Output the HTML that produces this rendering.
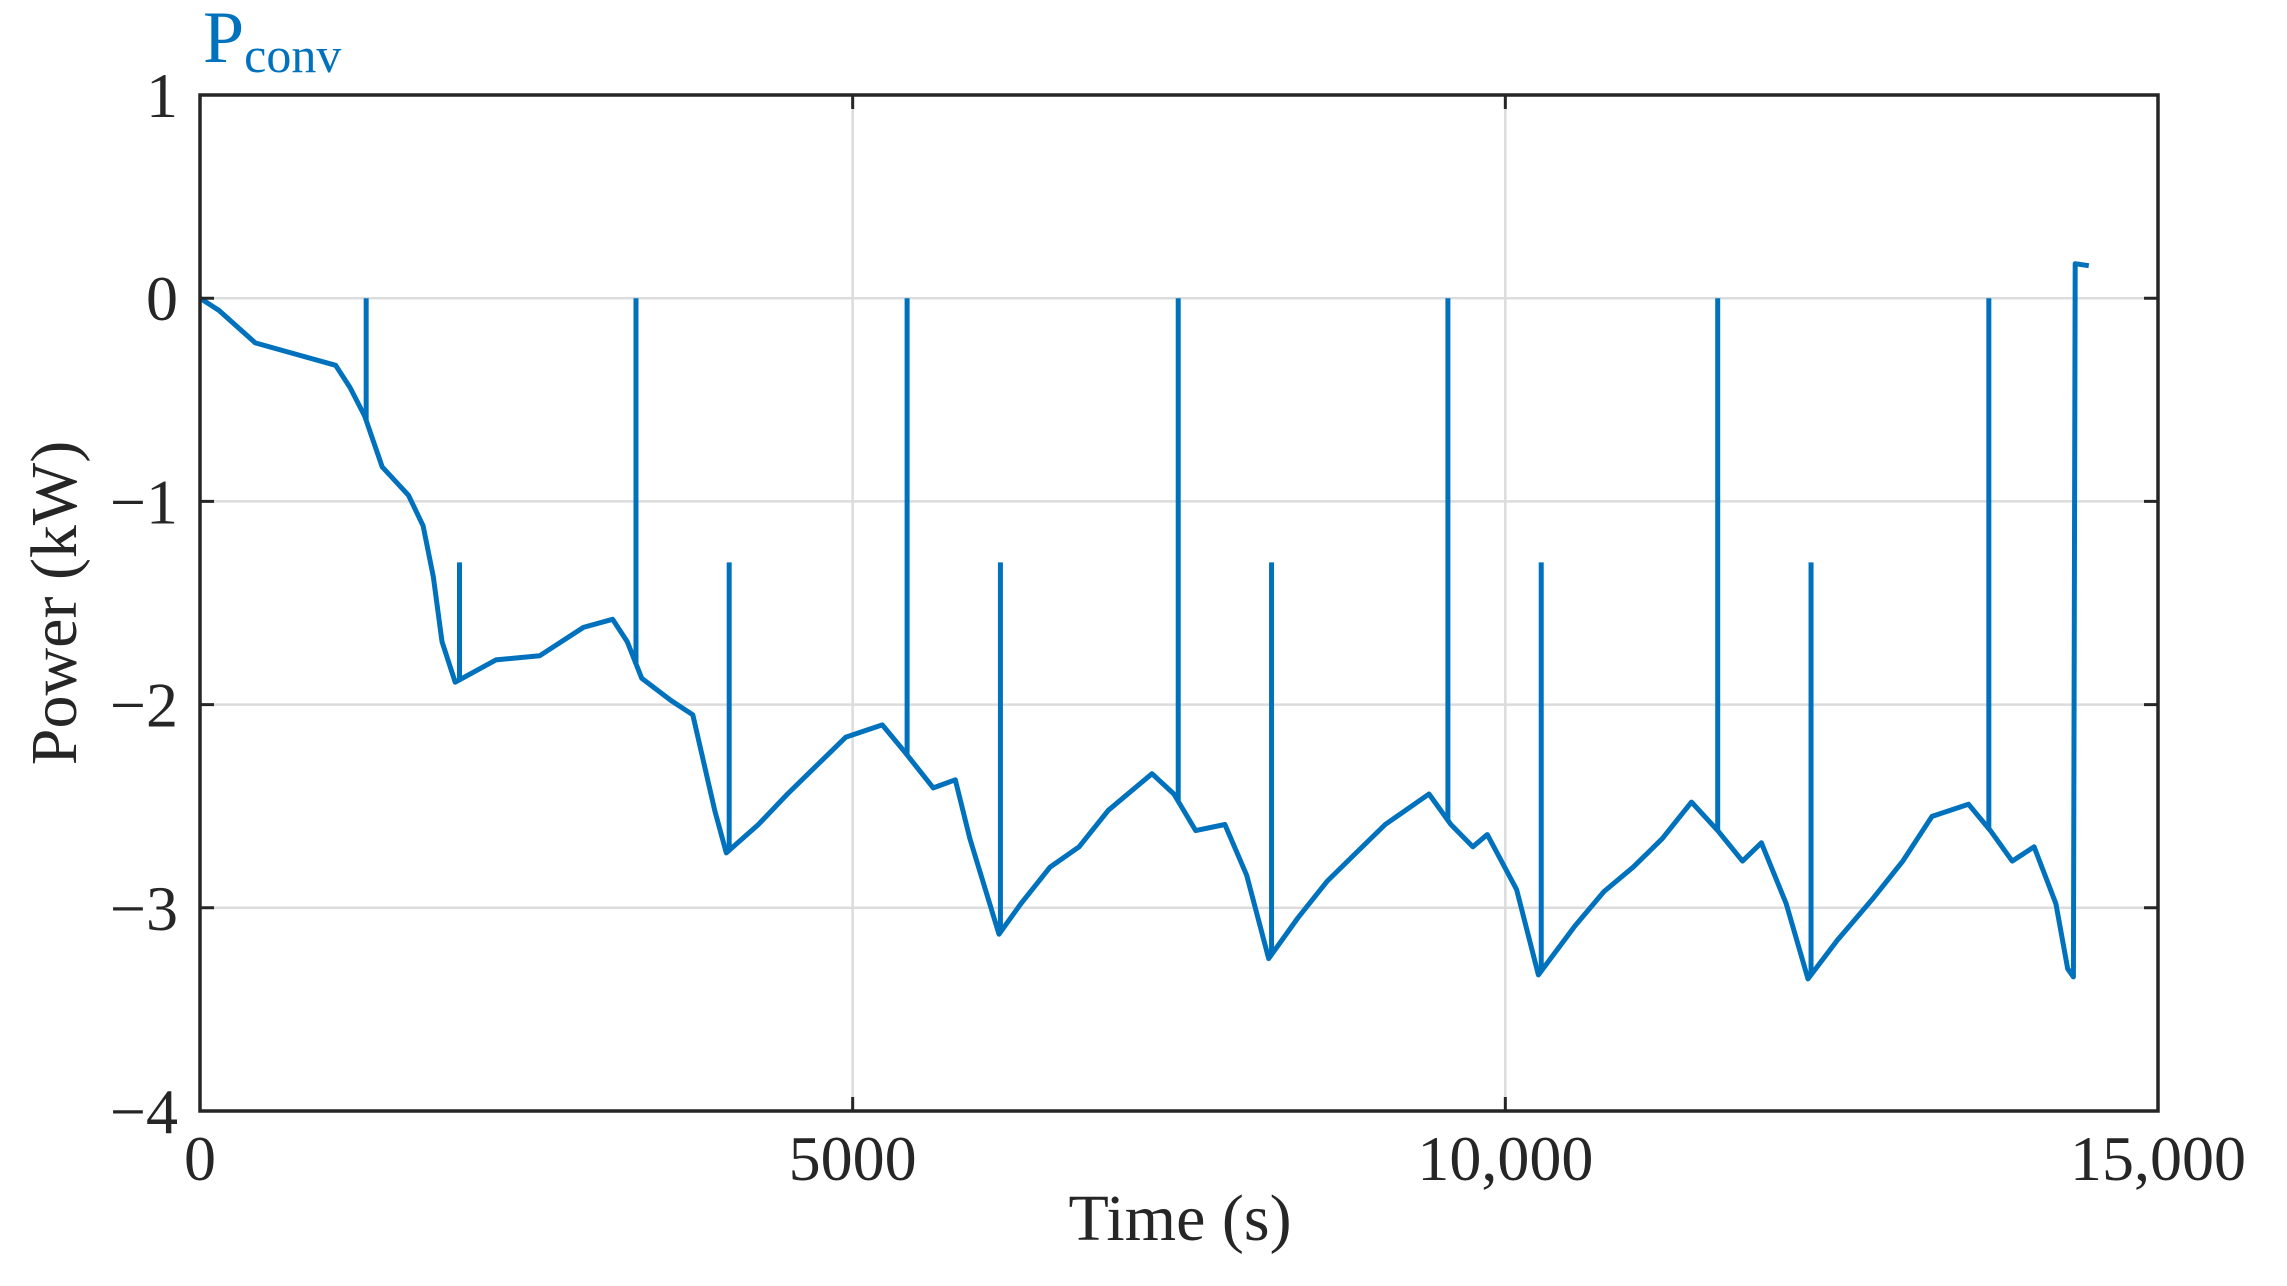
<!DOCTYPE html>
<html><head><meta charset="utf-8"><style>
html,body{margin:0;padding:0;background:#fff;}
svg text{font-family:"Liberation Serif",serif;fill:#262626;}
</style></head><body>
<svg id="chart" width="2287" height="1281" viewBox="0 0 2287 1281" xmlns="http://www.w3.org/2000/svg">
<g id="grid"></g>
<g id="series"></g>
<g id="axes"></g>
<text x="203" y="62" font-size="74" style="fill:#0072BD">P<tspan font-size="50" dy="10">conv</tspan></text>
<text x="1180" y="1240" font-size="66" text-anchor="middle">Time (s)</text>
<text transform="translate(76,603) rotate(-90)" font-size="66" text-anchor="middle">Power (kW)</text>
</svg>
<script>
const baseTimes=[0,145,424,704,1039,1150,1262,1396,1597,1709,1787,1854,1955,2267,2602,2937,3161,3273,3384,3608,3775,3943,4032,4278,4501,4724,4948,5227,5395,5618,5786,5898,6121,6289,6512,6735,6958,7293,7461,7628,7852,8019,8187,8410,8634,8857,9080,9415,9583,9751,9862,10086,10253,10532,10756,10979,11202,11426,11627,11817,11962,12152,12319,12543,12822,13045,13269,13548,13716,13883,14051,14218,14308,14352];
const baseValues=[0,-0.06,-0.22,-0.27,-0.33,-0.44,-0.58,-0.83,-0.97,-1.12,-1.37,-1.69,-1.89,-1.78,-1.76,-1.62,-1.58,-1.69,-1.87,-1.98,-2.05,-2.52,-2.73,-2.59,-2.44,-2.3,-2.16,-2.1,-2.23,-2.41,-2.37,-2.66,-3.13,-2.98,-2.8,-2.7,-2.52,-2.34,-2.44,-2.62,-2.59,-2.84,-3.25,-3.05,-2.87,-2.73,-2.59,-2.44,-2.59,-2.7,-2.64,-2.91,-3.33,-3.09,-2.92,-2.8,-2.66,-2.48,-2.62,-2.77,-2.68,-2.98,-3.35,-3.16,-2.95,-2.77,-2.55,-2.49,-2.62,-2.77,-2.7,-2.98,-3.3,-3.34];
const endTimes=[14366,14470];
const endValues=[0.17,0.16];
const spikeTimes=[1273,3340,5417,7494,9560,11627,13704,1988,4054,6132,8209,10275,12342];
const spikeTops=[0,0,0,0,0,0,0,-1.3,-1.3,-1.3,-1.3,-1.3,-1.3];
const xTicks=[0,5000,10000,15000];
const xTickLabels=["0","5000","10,000","15,000"];
const yTicks=[1,0,-1,-2,-3,-4];
const yTickLabels=["1","0","\u22121","\u22122","\u22123","\u22124"];

const L=200,R=2158,T=95,B=1111;
const xs=t=>L+(t/15000)*(R-L);
const ys=v=>T+(1-v)/5*(B-T);
const NS="http://www.w3.org/2000/svg";
function mk(tag,attrs,parent){const e=document.createElementNS(NS,tag);for(const k in attrs)e.setAttribute(k,attrs[k]);parent.appendChild(e);return e;}
function interp(t){for(let i=1;i<baseTimes.length;i++){if(t<=baseTimes[i]){const a=baseTimes[i-1],b=baseTimes[i];const f=(t-a)/(b-a);return baseValues[i-1]+f*(baseValues[i]-baseValues[i-1]);}}return baseValues[baseValues.length-1];}
const grid=document.getElementById('grid'),series=document.getElementById('series'),axes=document.getElementById('axes');
xTicks.forEach((t,i)=>{
 const g=mk('line',{x1:xs(t),x2:xs(t),y1:T,y2:B,stroke:'#dcdcdc','stroke-width':2.5},grid);
 
 
 const lb=mk('text',{x:xs(t),y:1180,'font-size':64,'text-anchor':'middle'},axes);
 lb.textContent=xTickLabels[i];
 
 
 const tk=mk('path',{d:`M${xs(t)},${B}v-14M${xs(t)},${T}v14`,stroke:'#262626','stroke-width':3},axes);
 
 
});
yTicks.forEach((v,i)=>{
 const g=mk('line',{x1:L,x2:R,y1:ys(v),y2:ys(v),stroke:'#dcdcdc','stroke-width':2.5},grid);
 
 
 const lb=mk('text',{x:178,y:ys(v)+22,'font-size':64,'text-anchor':'end'},axes);
 lb.textContent=yTickLabels[i];
 
 
 const tk=mk('path',{d:`M${L},${ys(v)}h14M${R},${ys(v)}h-14`,stroke:'#262626','stroke-width':3},axes);
 
 
});
const box=mk('rect',{x:L,y:T,width:R-L,height:B-T,fill:'none',stroke:'#262626','stroke-width':3.5},axes);


let d=baseTimes.map((t,i)=>(i?'L':'M')+xs(t).toFixed(1)+','+ys(baseValues[i]).toFixed(1)).join('');
endTimes.forEach((t,i)=>{d+='L'+xs(t).toFixed(1)+','+ys(endValues[i]).toFixed(1);});
const p=mk('path',{d:d,fill:'none',stroke:'#0072BD','stroke-width':5,'stroke-linejoin':'round'},series);


spikeTimes.forEach((t,i)=>{
 const s=mk('line',{x1:xs(t),x2:xs(t),y1:ys(interp(t)),y2:ys(spikeTops[i]),stroke:'#0072BD','stroke-width':5},series);
 
 
});
</script>
</body></html>
